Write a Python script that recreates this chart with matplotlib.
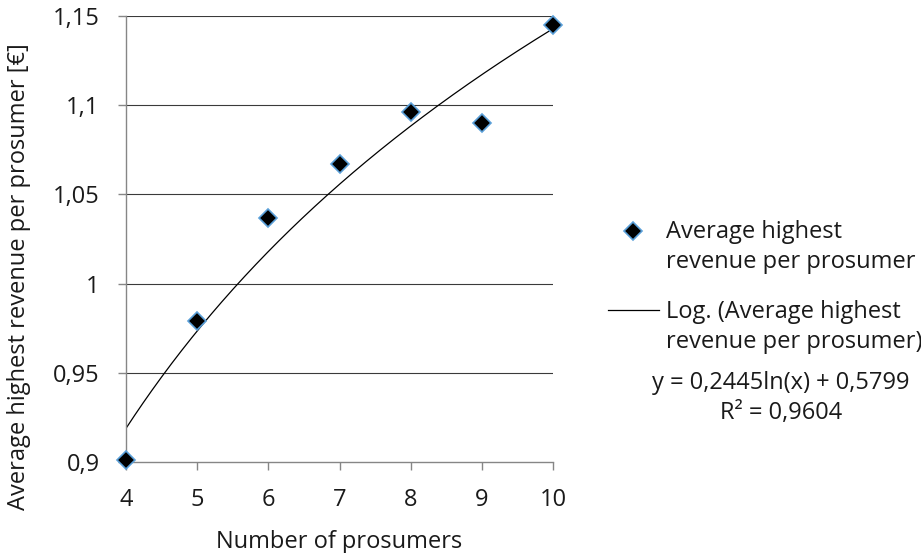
import numpy as np
import matplotlib
matplotlib.use("Agg")
import matplotlib.pyplot as plt
from matplotlib.lines import Line2D

plt.rcParams["font.family"] = ["Open Sans", "DejaVu Sans"]

# measured revenue per prosumer for each group size
prosumers = [4, 5, 6, 7, 8, 9, 10]
avg_revenue = [0.901, 0.979, 1.037, 1.067, 1.096, 1.090, 1.145]

# logarithmic trendline coefficients (y = a*ln(x) + b)
trend_a = 0.2445
trend_b = 0.5799
r_squared = 0.9604

y_ticks = [0.9, 0.95, 1.0, 1.05, 1.1, 1.15]
y_tick_labels = ["0,9", "0,95", "1", "1,05", "1,1", "1,15"]

series_label = "Average highest\nrevenue per prosumer"
trend_label = "Log. (Average highest\nrevenue per prosumer)"

W, H = 921, 553
fig = plt.figure(figsize=(W / 100, H / 100), dpi=100)
ax = fig.add_axes([126 / W, 1 - 462 / H, 427 / W, 446 / H])

fs = 17
text_col = "#1a1a1a"
axis_grey = "#868686"
grid_col = "#3a3a3a"
edge_blue = "#5a9fd8"
msize = 9

for yv in y_ticks[1:]:
    ax.axhline(yv, color=grid_col, lw=0.8, zorder=1)

xs = np.linspace(prosumers[0], prosumers[-1], 300)
ax.plot(xs, trend_a * np.log(xs) + trend_b, color="black", lw=0.9, zorder=2)

ax.plot(prosumers, avg_revenue, linestyle="none", marker="D", markersize=msize,
        markerfacecolor="black", markeredgecolor=edge_blue, markeredgewidth=1.2,
        clip_on=False, zorder=4)

ax.set_xlim(4, 10)
ax.set_ylim(0.9, 1.15)
ax.set_xticks(prosumers)
ax.set_xticklabels([str(p) for p in prosumers])
ax.set_yticks(y_ticks)
ax.set_yticklabels(y_tick_labels)

for side in ("top", "right"):
    ax.spines[side].set_visible(False)
for side in ("left", "bottom"):
    ax.spines[side].set_color(axis_grey)
    ax.spines[side].set_linewidth(1.0)
    ax.spines[side].set_zorder(3)

ax.tick_params(axis="both", direction="out", length=6, width=1.0,
               color=axis_grey, labelsize=fs, labelcolor=text_col)
ax.tick_params(axis="x", pad=13)
ax.tick_params(axis="y", pad=13)

ax.set_xlabel("Number of prosumers", fontsize=fs, color=text_col)
ax.set_ylabel("Average highest revenue per prosumer [€]", fontsize=fs, color=text_col)
ax.xaxis.set_label_coords(0.5, -0.152)
# y title sits centred on the full chart height, a bit below the plot centre
ax.yaxis.set_label_coords(-0.222, 0.415)

# legend entries laid out on the right
tf = fig.transFigure
fig.add_artist(Line2D([633 / W], [1 - 231 / H], transform=tf, marker="D",
                      markersize=msize, markerfacecolor="black",
                      markeredgecolor=edge_blue, markeredgewidth=1.2,
                      linestyle="none"))
fig.text(666 / W, 1 - 247 / H, series_label, fontsize=fs, color=text_col,
         ha="left", va="center", linespacing=1.38)

fig.add_artist(Line2D([608 / W, 659 / W], [1 - 310 / H, 1 - 310 / H],
                      transform=tf, color="black", lw=0.9))
fig.text(666 / W, 1 - 327 / H, trend_label, fontsize=fs, color=text_col,
         ha="left", va="center", linespacing=1.38)

eq_text = (f"y = {trend_a:.4f}ln(x) + {trend_b:.4f}".replace(".", ",")
           + "\n" + f"R² = {r_squared:.4f}".replace(".", ","))
fig.text(781 / W, 1 - 398 / H, eq_text, fontsize=fs, color=text_col,
         ha="center", va="center", multialignment="center", linespacing=1.3)

fig.savefig("out.png", dpi=100)
